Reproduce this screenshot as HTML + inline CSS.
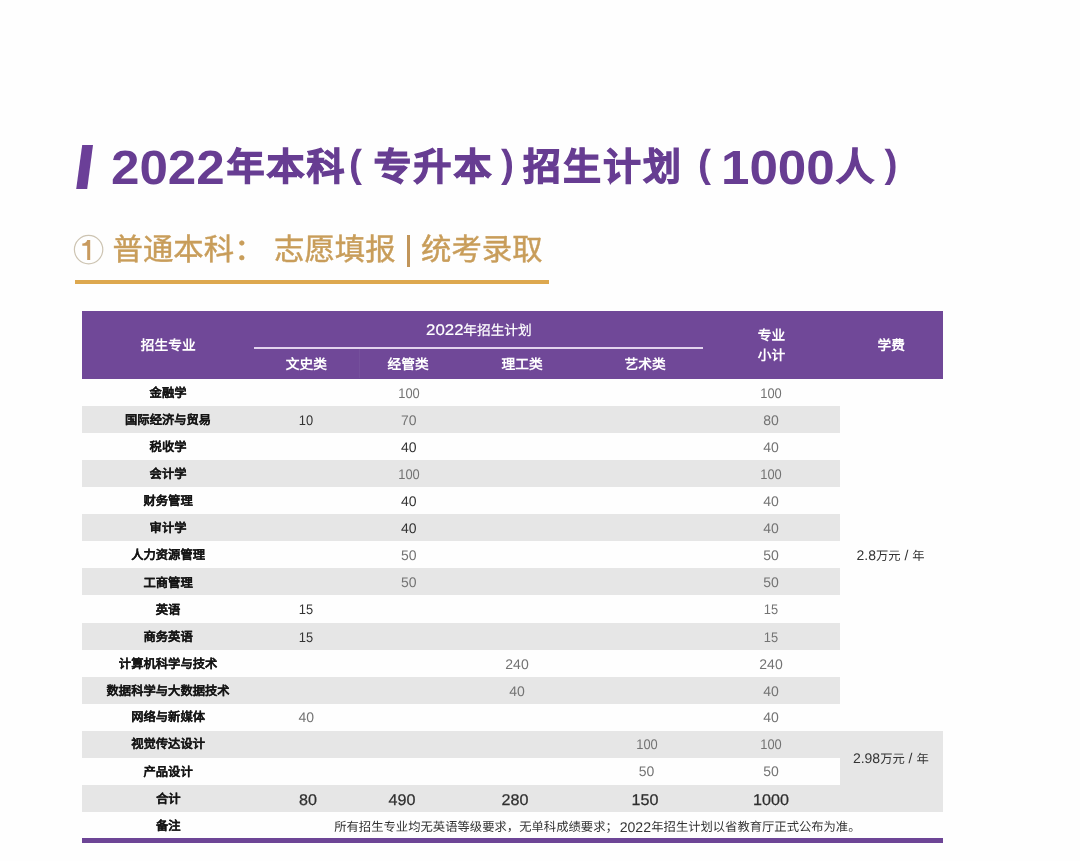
<!DOCTYPE html>
<html lang="zh-CN">
<head>
<meta charset="utf-8">
<title>2022年本科（专升本）招生计划</title>
<style>
html,body{margin:0;padding:0;}
body{text-rendering:geometricPrecision;-webkit-font-smoothing:antialiased;width:1080px;height:861px;position:relative;overflow:hidden;background:#fefefe;font-family:"Liberation Sans",sans-serif;color:#333;}
#page{position:absolute;left:0;top:0;width:1080px;height:861px;overflow:hidden;will-change:transform;}
.t{position:absolute;white-space:nowrap;line-height:1;}
.c{transform:translate(-50%,-50%);text-align:center;}
.l{transform:translateY(-50%);}
.sx{display:inline-block;transform-origin:0 50%;}
.ttl{color:#673d92;font-weight:bold;}
.gold{color:#c89d5a;}
.hd{color:#fff;font-weight:bold;font-size:13.7px;}
.nm{color:#151515;font-weight:bold;font-size:12.3px;-webkit-text-stroke:0.1px #151515;}
.n{font-size:14px;}
.k{display:inline-block;}
.g{color:#737373;}
.d{color:#333;}
.tot{font-size:15.5px;color:#2e2e2e;-webkit-text-stroke:0.25px #2e2e2e;}
.row{position:absolute;left:82px;height:27.1px;background:#e6e6e6;}
</style>
</head>
<body>
<div id="page">
<svg class="t" style="left:70px;top:140px" width="30" height="55" viewBox="70 140 30 55"><polygon points="82.2,145 93,145 87.2,189 76.2,189" fill="#6b3f98"/></svg>
<div class="t l ttl" style="left:111.2px;top:168.5px;font-size:48px;"><span class="sx" style="transform:scaleX(1.065)">2022</span></div>
<div class="t l ttl" style="left:226.7px;top:167.5px;font-size:37.6px;letter-spacing:2.4px;-webkit-text-stroke:1.3px #673d92;width:120.06px;text-align:justify;text-align-last:justify;">年本科</div>
<div class="t l ttl" style="left:349px;top:164.3px;font-size:39px;">(</div>
<div class="t l ttl" style="left:373.7px;top:167.5px;font-size:37.6px;letter-spacing:2.4px;-webkit-text-stroke:1.3px #673d92;width:120.06px;text-align:justify;text-align-last:justify;">专升本</div>
<div class="t l ttl" style="left:501px;top:164.3px;font-size:39px;">)</div>
<div class="t l ttl" style="left:523.2px;top:167.5px;font-size:37.6px;letter-spacing:2.4px;-webkit-text-stroke:1.3px #673d92;width:160.06px;text-align:justify;text-align-last:justify;">招生计划</div>
<div class="t l ttl" style="left:698px;top:164.3px;font-size:39px;">(</div>
<div class="t l ttl" style="left:721.2px;top:168.5px;font-size:48px;"><span class="sx" style="transform:scaleX(1.065)">1000</span></div>
<div class="t l ttl" style="left:836.2px;top:167.5px;font-size:37.6px;letter-spacing:2.4px;-webkit-text-stroke:1.3px #673d92;width:40.06px;text-align:justify;text-align-last:justify;">人</div>
<div class="t l ttl" style="left:884.5px;top:164.3px;font-size:39px;">)</div>
<svg class="t" style="left:70px;top:230px" width="40" height="40" viewBox="70 230 40 40"><circle cx="88.6" cy="249.6" r="14.2" fill="none" stroke="#cdc4b2" stroke-width="1.2"/><path d="M87.2 240 H90.2 V260 H87.2 V245.7 H82.3 V243.5 C85 243.5 86.6 242.3 87.2 240 Z" fill="#c89a5e"/></svg>
<div class="t l gold" style="left:112.5px;top:250px;font-size:30.4px;-webkit-text-stroke:0.45px #c89d5a;width:152.06px;text-align:justify;text-align-last:justify;">普通本科：</div>
<div class="t l gold" style="left:274px;top:250px;font-size:30.4px;-webkit-text-stroke:0.45px #c89d5a;width:121.66px;text-align:justify;text-align-last:justify;">志愿填报</div>
<div class="t" style="left:407px;top:235px;width:2.8px;height:31.5px;background:#c1955a;"></div>
<div class="t l gold" style="left:421px;top:250px;font-size:30.4px;-webkit-text-stroke:0.45px #c89d5a;width:121.66px;text-align:justify;text-align-last:justify;">统考录取</div>
<div class="t" style="left:75px;top:279.6px;width:473.5px;height:4.6px;background:#dda84f;"></div>
<div class="t" style="left:82px;top:311px;width:860.5px;height:67.7px;background:#704898;"></div>
<div class="t" style="left:254px;top:347.3px;width:448.5px;height:1.5px;background:#e2d3ee;"></div>
<div class="t" style="left:359px;top:349px;width:1px;height:29px;background:#75509c;"></div>
<div class="t c hd" style="left:168.2px;top:345.6px;width:54.86px;text-align:justify;text-align-last:justify;">招生专业</div>
<div class="t c hd" style="left:478.8px;top:331.3px;font-weight:normal;-webkit-text-stroke:0.2px #fff;"><span class="sx" style="font-size:15.3px;transform:scaleX(1.1);margin-right:3.4px;">2022</span>年招生计划</div>
<div class="t c hd" style="left:306.4px;top:365.2px;width:41.16px;text-align:justify;text-align-last:justify;">文史类</div>
<div class="t c hd" style="left:408.1px;top:365.2px;width:41.16px;text-align:justify;text-align-last:justify;">经管类</div>
<div class="t c hd" style="left:522.2px;top:365.2px;width:41.16px;text-align:justify;text-align-last:justify;">理工类</div>
<div class="t c hd" style="left:645.2px;top:365.2px;width:41.16px;text-align:justify;text-align-last:justify;">艺术类</div>
<div class="t c hd" style="left:771.4px;top:335.9px;width:27.46px;text-align:justify;text-align-last:justify;">专业</div>
<div class="t c hd" style="left:771.4px;top:355.9px;width:27.46px;text-align:justify;text-align-last:justify;">小计</div>
<div class="t c hd" style="left:891.2px;top:345.6px;width:27.46px;text-align:justify;text-align-last:justify;">学费</div>
<div class="t c nm" style="left:168.1px;top:392.9px;width:36.96px;text-align:justify;text-align-last:justify;">金融学</div>
<div class="t c n g" style="left:408.8px;top:392.6px;"><span class="k" style="transform:scaleX(0.92)">100</span></div>
<div class="t c n g" style="left:771.0px;top:392.6px;"><span class="k" style="transform:scaleX(0.92)">100</span></div>
<div class="row" style="top:405.8px;width:758px;"></div>
<div class="t c nm" style="left:168.1px;top:420.0px;width:86.16px;text-align:justify;text-align-last:justify;">国际经济与贸易</div>
<div class="t c n d" style="left:306.2px;top:419.8px;"><span class="k" style="transform:scaleX(0.92)">10</span></div>
<div class="t c n g" style="left:408.8px;top:419.8px;"><span class="k">70</span></div>
<div class="t c n g" style="left:771.0px;top:419.8px;"><span class="k">80</span></div>
<div class="t c nm" style="left:168.1px;top:447.1px;width:36.96px;text-align:justify;text-align-last:justify;">税收学</div>
<div class="t c n d" style="left:408.8px;top:446.8px;"><span class="k">40</span></div>
<div class="t c n g" style="left:771.0px;top:446.8px;"><span class="k">40</span></div>
<div class="row" style="top:460.0px;width:758px;"></div>
<div class="t c nm" style="left:168.1px;top:474.2px;width:36.96px;text-align:justify;text-align-last:justify;">会计学</div>
<div class="t c n g" style="left:408.8px;top:473.9px;"><span class="k" style="transform:scaleX(0.92)">100</span></div>
<div class="t c n g" style="left:771.0px;top:473.9px;"><span class="k" style="transform:scaleX(0.92)">100</span></div>
<div class="t c nm" style="left:168.1px;top:501.3px;width:49.26px;text-align:justify;text-align-last:justify;">财务管理</div>
<div class="t c n d" style="left:408.8px;top:501.1px;"><span class="k">40</span></div>
<div class="t c n g" style="left:771.0px;top:501.1px;"><span class="k">40</span></div>
<div class="row" style="top:514.2px;width:758px;"></div>
<div class="t c nm" style="left:168.1px;top:528.4px;width:36.96px;text-align:justify;text-align-last:justify;">审计学</div>
<div class="t c n d" style="left:408.8px;top:528.1px;"><span class="k">40</span></div>
<div class="t c n g" style="left:771.0px;top:528.1px;"><span class="k">40</span></div>
<div class="t c nm" style="left:168.1px;top:555.4px;width:73.86px;text-align:justify;text-align-last:justify;">人力资源管理</div>
<div class="t c n g" style="left:408.8px;top:555.2px;"><span class="k">50</span></div>
<div class="t c n g" style="left:771.0px;top:555.2px;"><span class="k">50</span></div>
<div class="row" style="top:568.4px;width:758px;"></div>
<div class="t c nm" style="left:168.1px;top:582.5px;width:49.26px;text-align:justify;text-align-last:justify;">工商管理</div>
<div class="t c n g" style="left:408.8px;top:582.3px;"><span class="k">50</span></div>
<div class="t c n g" style="left:771.0px;top:582.3px;"><span class="k">50</span></div>
<div class="t c nm" style="left:168.1px;top:609.6px;width:24.66px;text-align:justify;text-align-last:justify;">英语</div>
<div class="t c n d" style="left:306.2px;top:609.4px;"><span class="k" style="transform:scaleX(0.92)">15</span></div>
<div class="t c n g" style="left:771.0px;top:609.4px;"><span class="k" style="transform:scaleX(0.92)">15</span></div>
<div class="row" style="top:622.6px;width:758px;"></div>
<div class="t c nm" style="left:168.1px;top:636.8px;width:49.26px;text-align:justify;text-align-last:justify;">商务英语</div>
<div class="t c n d" style="left:306.2px;top:636.5px;"><span class="k" style="transform:scaleX(0.92)">15</span></div>
<div class="t c n g" style="left:771.0px;top:636.5px;"><span class="k" style="transform:scaleX(0.92)">15</span></div>
<div class="t c nm" style="left:168.1px;top:663.9px;width:98.46px;text-align:justify;text-align-last:justify;">计算机科学与技术</div>
<div class="t c n g" style="left:517.0px;top:663.6px;"><span class="k">240</span></div>
<div class="t c n g" style="left:771.0px;top:663.6px;"><span class="k">240</span></div>
<div class="row" style="top:676.8px;width:758px;"></div>
<div class="t c nm" style="left:168.1px;top:690.9px;width:123.06px;text-align:justify;text-align-last:justify;">数据科学与大数据技术</div>
<div class="t c n g" style="left:517.0px;top:690.7px;"><span class="k">40</span></div>
<div class="t c n g" style="left:771.0px;top:690.7px;"><span class="k">40</span></div>
<div class="t c nm" style="left:168.1px;top:716.6px;width:73.86px;text-align:justify;text-align-last:justify;">网络与新媒体</div>
<div class="t c n g" style="left:306.2px;top:716.9px;"><span class="k">40</span></div>
<div class="t c n g" style="left:771.0px;top:716.9px;"><span class="k">40</span></div>
<div class="row" style="top:731.0px;width:860.5px;"></div>
<div class="t c nm" style="left:168.1px;top:743.9px;width:73.86px;text-align:justify;text-align-last:justify;">视觉传达设计</div>
<div class="t c n g" style="left:646.5px;top:743.9px;"><span class="k" style="transform:scaleX(0.92)">100</span></div>
<div class="t c n g" style="left:771.0px;top:743.9px;"><span class="k" style="transform:scaleX(0.92)">100</span></div>
<div class="row" style="top:758.1px;left:840px;width:102.5px;"></div>
<div class="t c nm" style="left:168.1px;top:771.5px;width:49.26px;text-align:justify;text-align-last:justify;">产品设计</div>
<div class="t c n g" style="left:646.5px;top:771.1px;"><span class="k">50</span></div>
<div class="t c n g" style="left:771.0px;top:771.1px;"><span class="k">50</span></div>
<div class="row" style="top:785.2px;width:860.5px;"></div>
<div class="t c nm" style="left:168.3px;top:799.0px;width:24.66px;text-align:justify;text-align-last:justify;">合计</div>
<div class="t c tot" style="left:307.5px;top:800.6px;"><span class="k" style="transform:scaleX(1.04)">80</span></div>
<div class="t c tot" style="left:401.7px;top:800.6px;"><span class="k" style="transform:scaleX(1.04)">490</span></div>
<div class="t c tot" style="left:515.4px;top:800.6px;"><span class="k" style="transform:scaleX(1.04)">280</span></div>
<div class="t c tot" style="left:644.6px;top:800.6px;"><span class="k" style="transform:scaleX(1.04)">150</span></div>
<div class="t c tot" style="left:770.8px;top:800.6px;"><span class="k" style="transform:scaleX(1.04)">1000</span></div>
<div class="t c nm" style="left:168.3px;top:826.3px;width:24.66px;text-align:justify;text-align-last:justify;">备注</div>
<div class="t l" style="left:334.2px;top:826.6px;font-size:12.33px;color:#333;width:283.65px;text-align:justify;text-align-last:justify;">所有招生专业均无英语等级要求，无单科成绩要求；</div>
<div class="t l" style="left:619.7px;top:826.6px;font-size:14.1px;color:#333;">2022</div>
<div class="t l" style="left:651.3px;top:826.6px;font-size:12.3px;color:#333;width:209.16px;text-align:justify;text-align-last:justify;">年招生计划以省教育厅正式公布为准。</div>
<div class="t c" style="left:890.6px;top:554.6px;font-size:12.3px;color:#333;"><span style="font-size:14px;">2.8</span>万元<span style="font-size:14px;"> / </span>年</div>
<div class="t c" style="left:890.8px;top:758.0px;font-size:12.3px;color:#333;"><span style="font-size:14px;">2.98</span>万元<span style="font-size:14px;"> / </span>年</div>
<div class="t" style="left:82px;top:838px;width:860.5px;height:4.6px;background:#6d4596;"></div>
</div>
</body>
</html>
